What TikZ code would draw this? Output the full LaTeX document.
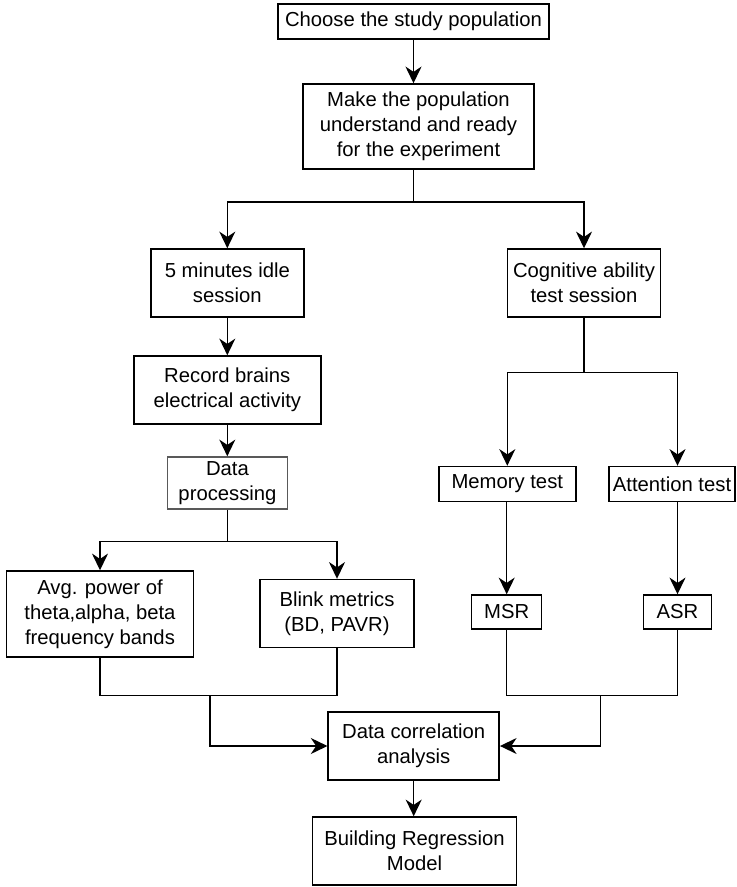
\documentclass[tikz,border=0pt]{standalone}
\usepackage{fontspec}
\setmainfont{Liberation Sans}
\usetikzlibrary{arrows.meta}

\tikzset{every picture/.style={line width=1.1pt}}
\tikzset{
  blk/.style={draw, align=center, inner sep=0pt, font=\fontsize{15.2}{18.75}\selectfont},
  arr/.style={-{Stealth[length=12.5pt,width=12pt,inset=4pt]}}
}

\begin{document}
\begin{tikzpicture}[x=0.75pt,y=0.75pt,yscale=-1,xscale=1]
\useasboundingbox (0,0) rectangle (737,887);

%Shape: Rectangle
\node [blk, minimum width=203.25pt, minimum height=26.25pt] (choose) at (413.5,21.5) {Choose the study population};
\node [blk, minimum width=173.25pt, minimum height=63.75pt] (ready) at (418.5,126.5) {Make the population\\understand and ready\\for the experiment};
\node [blk, minimum width=114.75pt, minimum height=51pt] (idle) at (227.3,283) {5 minutes idle\\session};
\node [blk, minimum width=114.75pt, minimum height=51pt] (cog) at (584,283) {Cognitive ability\\test session};
\node [blk, minimum width=140.25pt, minimum height=51pt] (record) at (227.3,390) {Record brains\\electrical activity};
\node [blk, draw=black!65, minimum width=90pt, minimum height=39pt] (proc) at (227.5,483) {Data\\processing};
\node [blk, minimum width=140.25pt, minimum height=64.5pt] (avg) at (100,614) {Avg. power of\\theta,alpha, beta\\frequency bands};
\node [blk, minimum width=115.5pt, minimum height=51pt] (blink) at (337,613.5) {Blink metrics\\(BD, PAVR)};
\node [blk, minimum width=102.75pt, minimum height=26.25pt] (memory) at (507.3,484) {Memory test};
\node [blk, minimum width=94.5pt, minimum height=26.25pt] (attention) at (672,484) {Attention test};
\node [blk, minimum width=52.5pt, minimum height=25.5pt] (msr) at (506.7,612) {MSR};
\node [blk, minimum width=51pt, minimum height=25.5pt] (asr) at (677.5,612) {ASR};
\node [blk, minimum width=128.25pt, minimum height=51pt] (corr) at (413.7,746) {Data correlation\\analysis};
\node [blk, minimum width=153pt, minimum height=51pt] (build) at (414.5,851) {Building Regression\\Model};

%Split points
\coordinate (splitA) at (413.5,202);
\coordinate (splitB) at (227.5,541.7);
\coordinate (splitC) at (584,372.7);
\coordinate (joinL) at (210,695.7);
\coordinate (joinR) at (600.7,695.7);

%Straight Lines
\draw [arr] (choose) -- (choose |- ready.north);
\draw (ready.south -| splitA) -- (splitA);
\draw [arr] (splitA) -| (idle);
\draw [arr] (splitA) -| (cog);
\draw [arr] (idle) -- (record);
\draw [arr] (record) -- (record |- proc.north);
\draw (proc) -- (splitB);
\draw [arr] (splitB) -| (avg);
\draw [arr] (splitB) -| (blink);
\draw (cog) -- (splitC);
\draw [arr] (splitC) -| (memory);
\draw [arr] (splitC) -| (asr |- attention.north);
\draw [arr] (memory.south -| msr) -- (msr);
\draw [arr] (attention.south -| asr) -- (asr);
\draw (avg.south) |- (blink.south |- joinL) -- (blink.south);
\draw [arr] (joinL) |- (corr.west);
\draw (msr.south) |- (asr.south |- joinR) -- (asr.south);
\draw [arr] (joinR) |- (corr.east);
\draw [arr] (corr) -- (corr |- build.north);

\end{tikzpicture}
\end{document}
